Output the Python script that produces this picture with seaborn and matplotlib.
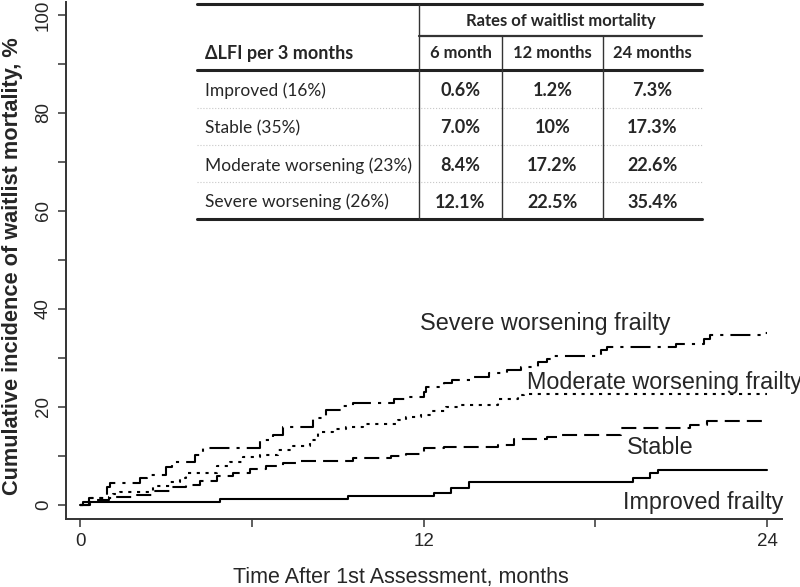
import matplotlib
matplotlib.use("Agg")
import matplotlib.pyplot as plt
from matplotlib.lines import Line2D
import pandas as pd
import seaborn as sns

# step curves (months, cumulative incidence %)
improved_t = [0, 0.1, 4.9, 9.35, 12.35, 12.95, 13.6, 19.3, 19.9, 20.2, 24.0]
improved_v = [0, 0.6, 1.2, 1.9, 2.4, 3.4, 4.7, 5.5, 6.5, 7.2, 7.2]

stable_t = [0, 0.3, 1.0, 2.0, 2.55, 3.15, 3.7, 4.2, 4.8, 5.35, 5.95, 6.5, 7.1, 7.7,
            9.55, 10.85, 11.4, 12.0, 12.7, 14.6, 15.15, 16.3, 16.8, 18.9, 21.3, 21.9, 24.0]
stable_v = [0, 1.0, 1.6, 2.0, 2.9, 3.7, 4.1, 4.9, 5.9, 6.5, 7.3, 7.9, 8.5, 9.0,
            9.6, 10.0, 10.4, 11.6, 11.8, 12.2, 13.4, 13.8, 14.3, 15.7, 16.3, 17.2, 17.2]

moderate_t = [0, 0.35, 1.15, 1.4, 2.55, 3.15, 3.5, 3.7, 4.8, 5.25, 5.7, 6.3, 6.9, 7.45,
              8.05, 8.3, 8.85, 9.3, 9.9, 11.1, 11.4, 11.9, 12.25, 12.8, 13.3, 14.6,
              15.3, 15.5, 24.0]
moderate_v = [0, 1.4, 2.2, 2.6, 3.9, 4.7, 5.5, 6.5, 8.0, 8.8, 9.8, 10.2, 11.2, 12.0,
              13.2, 14.9, 15.5, 15.9, 16.5, 17.3, 17.9, 18.3, 19.1, 20.0, 20.4, 21.6,
              22.4, 22.6, 22.6]

severe_t = [0, 0.3, 0.95, 1.05, 2.1, 2.35, 3.0, 3.2, 4.0, 4.3, 6.3, 6.75, 7.1, 8.15,
            8.6, 9.2, 9.55, 10.95, 11.4, 12.0, 12.1, 12.7, 13.0, 13.75, 14.3, 14.9,
            15.4, 16.0, 16.3, 16.5, 18.2, 18.4, 20.8, 21.8, 22.0, 23.8, 24.0]
severe_v = [0, 1.5, 3.7, 4.5, 5.5, 6.1, 7.8, 8.8, 10.2, 11.6, 13.2, 14.3, 15.9, 17.7,
            19.3, 20.2, 20.8, 21.6, 22.0, 23.0, 24.0, 24.8, 25.5, 26.1, 26.9, 27.5,
            28.1, 29.1, 29.7, 30.5, 31.6, 32.2, 32.8, 33.8, 34.6, 35.1, 35.1]

# table contents
table_groups = ["Improved (16%)", "Stable (35%)", "Moderate worsening (23%)",
                "Severe worsening (26%)"]
table_cols = ["6 month", "12 months", "24 months"]
table_rates = [["0.6%", "1.2%", "7.3%"],
               ["7.0%", "10%", "17.3%"],
               ["8.4%", "17.2%", "22.6%"],
               ["12.1%", "22.5%", "35.4%"]]

sns.set_style("ticks")
plt.rcParams["font.family"] = ["Liberation Sans", "DejaVu Sans"]

W, H = 800, 587
fig = plt.figure(figsize=(W / 100, H / 100), dpi=100)
ax = fig.add_axes([66 / W, 1 - 519 / H, (782 - 66) / W, (519 - 2) / H])

curves = [
    (improved_t, improved_v, "-"),
    (stable_t, stable_v, (0, (7.2, 3.4))),
    (moderate_t, moderate_v, (0, (1.5, 2.7))),
    (severe_t, severe_v, (0, (9.6, 3.4, 1.5, 3.4))),
]
for t, v, ls in curves:
    d = pd.DataFrame({"t": t, "v": v})
    sns.lineplot(data=d, x="t", y="v", ax=ax, estimator=None, sort=False,
                 drawstyle="steps-post", color="black", linewidth=1.5,
                 linestyle=ls)

ax.set_xlim(-0.49, 24.52)
ax.set_ylim(-2.86, 102.65)
ax.set_xticks([0, 6, 12, 18, 24])
ax.set_xticklabels(["0", "", "12", "", "24"])
ax.set_yticks(range(0, 101, 10))
ax.set_yticklabels([str(y) if y % 20 == 0 else "" for y in range(0, 101, 10)],
                   rotation=90, va="center")
ax.tick_params(direction="out", length=6, width=1.1, labelsize=13.5, color="#333333",
               pad=4)
for s in ["top", "right"]:
    ax.spines[s].set_visible(False)
for s in ["left", "bottom"]:
    ax.spines[s].set_linewidth(1.4)
    ax.spines[s].set_color("#333333")

ax.set_xlabel("Time After 1st Assessment, months", fontsize=15.5, va="center")
ax.xaxis.set_label_coords(0.468, -0.114)
ax.set_ylabel("Cumulative incidence of waitlist mortality, %", fontsize=15.7,
              fontweight="bold", va="center")
ax.yaxis.set_label_coords(-0.075, 0.49)

lab = dict(fontsize=16.8, ha="left", va="center", clip_on=False)
ax.text(11.88, 37.0, "Severe worsening frailty", **lab)
ax.text(15.6, 24.9, "Moderate worsening frailty", **lab)
ax.text(19.11, 11.8, "Stable", **lab)
ax.text(18.97, 0.6, "Improved frailty", **lab)

# table drawn in figure pixel coordinates
def fx(x):
    return x / W


def fy(y):
    return 1 - y / H


def hline(x0, x1, y, lw, color="black", ls="-"):
    fig.add_artist(Line2D([fx(x0), fx(x1)], [fy(y), fy(y)], lw=lw, color=color,
                          linestyle=ls))


def vline(x, y0, y1, lw=1.0, color="#333333"):
    fig.add_artist(Line2D([fx(x), fx(x)], [fy(y0), fy(y1)], lw=lw, color=color))


tfont = ["Lato", "DejaVu Sans"]
tl, tr = 197, 702
col_x = [419, 502, 603]
centers = [460.5, 552.5, 652.5]
row_y = [90.5, 128, 165.5, 202]

hline(tl, tr, 4, 2.2, "#222222")
hline(col_x[0], tr, 36, 1.6, "#333333")
hline(tl, tr, 70, 2.2, "#222222")
for y in [108, 145, 182]:
    hline(tl, tr, y, 0.8, "#c8c8c8", ":")
hline(tl, tr, 219, 2.2, "#222222")
vline(col_x[0], 4, 219)
vline(col_x[1], 36, 219)
vline(col_x[2], 36, 219)

fig.text(fx(560.5), fy(21), "Rates of waitlist mortality", family=tfont,
         fontsize=12, fontweight="bold", ha="center", va="center")
fig.text(fx(205), fy(53), "\u0394LFI per 3 months", family=tfont, fontsize=13,
         fontweight="bold", ha="left", va="center")
for cx, name in zip(centers, table_cols):
    fig.text(fx(cx), fy(53), name, family=tfont, fontsize=12, fontweight="bold",
             ha="center", va="center")
for ry, name, rates in zip(row_y, table_groups, table_rates):
    fig.text(fx(205), fy(ry), name, family=tfont, fontsize=12.5, ha="left",
             va="center")
    for cx, r in zip(centers, rates):
        fig.text(fx(cx), fy(ry), r, family=tfont, fontsize=13, fontweight="bold",
                 ha="center", va="center")

fig.savefig("out.png", dpi=100)
